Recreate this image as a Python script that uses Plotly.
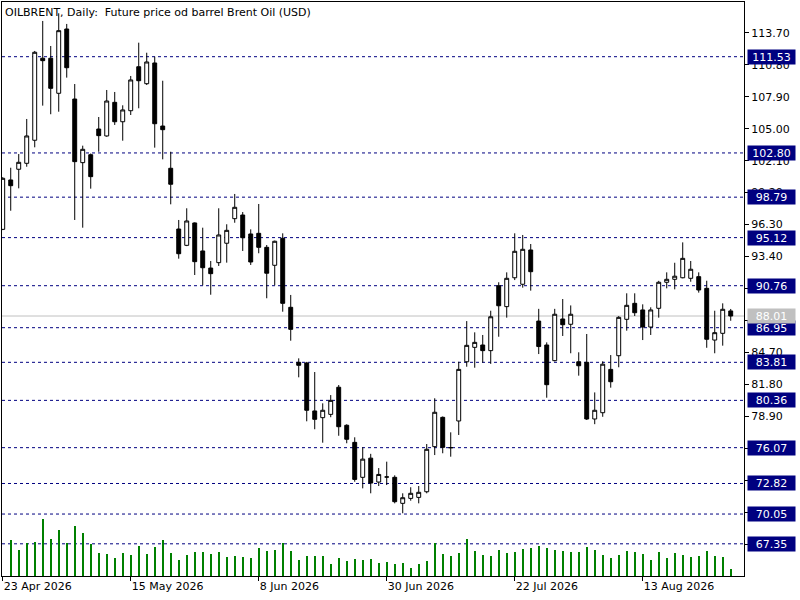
import pandas as pd
import plotly.graph_objects as go

# daily bars, Brent oil, 23 Apr 2026 .. 28 Aug 2026
opens = [95.87, 100.35, 101.32, 101.86, 103.95, 111.39, 111.39, 108.21, 114.04, 107.69,
         101.92, 102.64, 104.97, 104.34, 107.39, 105.63, 106.63, 110.62, 109.08, 110.96,
         105.24, 101.41, 95.90, 94.42, 96.45, 93.91, 92.36, 92.85, 94.61, 96.84,
         97.17, 95.45, 95.51, 94.24, 92.61, 95.06, 88.80, 83.81, 83.75, 79.40,
         78.79, 79.09, 81.55, 78.10, 76.55, 73.38, 75.12, 72.95, 73.41, 73.38,
         71.02, 71.47, 71.56, 72.07, 76.16, 78.82, 76.07, 78.49, 83.86, 85.17,
         85.38, 84.87, 90.76, 88.86, 91.48, 90.89, 94.00, 87.55, 85.38, 83.96,
         87.74, 87.26, 83.86, 83.81, 78.67, 79.24, 83.17, 84.41, 87.71, 89.16,
         88.56, 87.01, 88.71, 91.07, 91.34, 91.48, 91.43, 91.58, 90.52, 85.83,
         86.44, 88.47]
highs = [100.60, 101.46, 102.70, 105.88, 112.05, 114.77, 112.50, 115.47, 114.50, 109.05,
         103.46, 102.75, 106.06, 108.51, 108.33, 107.12, 109.78, 112.80, 111.89, 111.53,
         109.35, 102.91, 96.72, 97.78, 96.50, 96.02, 93.00, 97.78, 96.33, 99.08,
         97.44, 95.87, 98.17, 94.45, 94.85, 95.51, 89.92, 84.17, 83.85, 82.93,
         80.09, 80.84, 81.75, 78.19, 77.01, 76.10, 75.51, 74.22, 74.80, 73.56,
         71.93, 72.48, 72.59, 76.40, 80.55, 78.90, 77.46, 83.86, 87.55, 86.53,
         86.29, 88.49, 91.07, 91.97, 95.51, 95.36, 94.54, 88.66, 85.62, 88.66,
         89.55, 88.97, 84.72, 86.38, 81.08, 83.90, 84.47, 88.00, 90.07, 90.07,
         89.07, 88.80, 91.20, 91.97, 92.84, 94.69, 93.00, 91.97, 91.21, 88.49,
         89.16, 88.65]
lows = [95.80, 97.56, 99.59, 101.55, 103.31, 107.09, 106.31, 106.54, 109.63, 96.72,
        96.02, 99.56, 102.91, 104.27, 105.34, 103.91, 106.24, 106.85, 108.96, 103.28,
        102.22, 98.14, 93.21, 94.35, 91.73, 90.80, 89.94, 92.55, 92.85, 96.47,
        93.91, 92.64, 93.70, 89.62, 90.80, 88.40, 85.77, 82.45, 78.46, 77.74,
        76.52, 78.83, 77.15, 76.47, 72.98, 72.38, 71.93, 72.59, 72.68, 71.02,
        70.12, 71.26, 71.02, 71.93, 75.40, 75.56, 75.25, 77.22, 83.41, 83.32,
        83.78, 83.67, 86.13, 87.86, 91.27, 90.58, 90.31, 84.56, 80.60, 83.90,
        86.20, 84.63, 82.60, 78.58, 78.20, 78.87, 81.51, 83.36, 86.68, 88.01,
        85.83, 86.29, 87.86, 90.52, 90.43, 91.43, 91.12, 90.13, 85.13, 84.63,
        85.32, 87.58]
closes = [100.50, 99.83, 101.95, 104.34, 111.93, 111.17, 108.66, 113.89, 110.53, 102.01,
          103.13, 100.65, 104.37, 107.51, 105.63, 106.70, 109.42, 109.35, 111.05, 105.45,
          104.91, 99.96, 93.66, 96.63, 92.94, 92.39, 91.85, 95.36, 95.78, 97.87,
          95.11, 92.91, 94.24, 91.89, 94.79, 89.16, 86.80, 83.54, 79.46, 78.64,
          79.46, 80.36, 77.97, 76.83, 73.19, 75.03, 72.86, 73.64, 73.41, 71.17,
          71.53, 71.93, 72.02, 75.92, 79.28, 76.10, 76.07, 83.17, 85.35, 85.62,
          84.87, 87.94, 88.94, 91.43, 93.88, 94.06, 92.03, 85.24, 81.78, 88.17,
          87.22, 88.17, 83.50, 78.67, 79.46, 83.64, 82.05, 87.89, 88.98, 88.31,
          87.01, 88.56, 91.07, 91.34, 91.62, 93.24, 92.25, 90.37, 85.90, 86.50,
          88.62, 88.01]
# tick volume (thousands), first bar hidden behind the frame
volume = [None, 36, 26, 33, 34, 57, 37, 46, 33, 50, 43, 32, 23, 22, 18, 23, 21, 30, 22, 29,
          36, 23, 16, 21, 24, 24, 22, 24, 19, 20, 19, 18, 28, 25, 26, 33, 25, 16, 20, 20,
          20, 12, 18, 15, 17, 16, 17, 13, 14, 12, 13, 8, 12, 15, 33, 22, 20, 23, 37, 25,
          21, 20, 26, 23, 24, 27, 28, 30, 28, 26, 25, 24, 24, 29, 26, 21, 18, 21, 25, 24,
          22, 16, 24, 18, 23, 21, 19, 20, 25, 20, 19, 7]

levels = [111.53, 102.80, 98.79, 95.12, 90.76, 86.95, 83.81, 80.36, 76.07, 72.82, 70.05, 67.35]
last_price = closes[-1]

dates = pd.bdate_range("2026-04-23", periods=len(closes))
idx = list(range(len(dates)))
tick_idx = idx[::16][:6]
tick_txt = [f"{dates[i].day} {dates[i]:%b %Y}" for i in tick_idx]

FONT = "DejaVu Sans"

candles = go.Candlestick(
    x=idx, open=opens, high=highs, low=lows, close=closes,
    increasing=dict(fillcolor="white", line=dict(color="black", width=1)),
    decreasing=dict(fillcolor="black", line=dict(color="black", width=1)),
    whiskerwidth=0, showlegend=False, hoverinfo="skip",
)
vols = go.Bar(x=idx, y=volume, yaxis="y2", width=0.13,
              marker=dict(color="#008000", line=dict(width=0)),
              showlegend=False, hoverinfo="skip")

fig = go.Figure(data=[vols, candles])

shapes = []
annots = []
for lv in levels:
    shapes.append(dict(type="line", xref="paper", x0=0, x1=1, yref="y", y0=lv, y1=lv,
                       line=dict(color="#000080", width=1, dash="3px,3px"), layer="below"))
    annots.append(dict(xref="paper", x=1, xanchor="left", xshift=3, yref="y", y=lv,
                       text=f"{lv:.2f}", showarrow=False, bgcolor="#000080",
                       font=dict(family=FONT, size=11, color="white"),
                       borderpad=0, width=47, height=14, align="center"))
shapes.append(dict(type="line", xref="paper", x0=0, x1=1, yref="y", y0=last_price, y1=last_price,
                   line=dict(color="#c0c0c0", width=1), layer="below"))
annots.append(dict(xref="paper", x=1, xanchor="left", xshift=3, yref="y", y=last_price,
                   text=f"{last_price:.2f}", showarrow=False, bgcolor="#c0c0c0",
                   font=dict(family=FONT, size=11, color="white"),
                   borderpad=0, width=47, height=14, align="center"))
annots.append(dict(xref="paper", yref="paper", x=0, y=1, xanchor="left", yanchor="top",
                   xshift=1, yshift=-2, showarrow=False,
                   text="OILBRENT, Daily:\u00a0 Future price od barrel Brent Oil (USD)",
                   font=dict(family=FONT, size=11, color="black")))

fig.update_layout(
    width=800, height=600,
    margin=dict(l=2, r=56, t=2, b=24),
    paper_bgcolor="white", plot_bgcolor="white",
    font=dict(family=FONT, size=11, color="black"),
    shapes=shapes, annotations=annots,
    bargap=0,
    xaxis=dict(range=[-0.09, 92.66], showgrid=False, zeroline=False, rangeslider=dict(visible=False),
               tickmode="array", tickvals=tick_idx, ticktext=tick_txt,
               ticks="outside", ticklen=4, tickcolor="black", ticklabelposition="outside right",
               showline=True, linecolor="black", linewidth=1, mirror=True),
    yaxis=dict(range=[64.43, 116.49], side="right", showgrid=False, zeroline=False,
               tick0=113.70, dtick=2.9, tickformat=".2f",
               ticks="outside", ticklen=4, tickcolor="black",
               showline=True, linecolor="black", linewidth=1, mirror=True),
    yaxis2=dict(range=[0, 575], overlaying="y", visible=False),
)

fig.write_html("out.html", config={"displayModeBar": False},
               post_script="document.body.style.margin='0';")
